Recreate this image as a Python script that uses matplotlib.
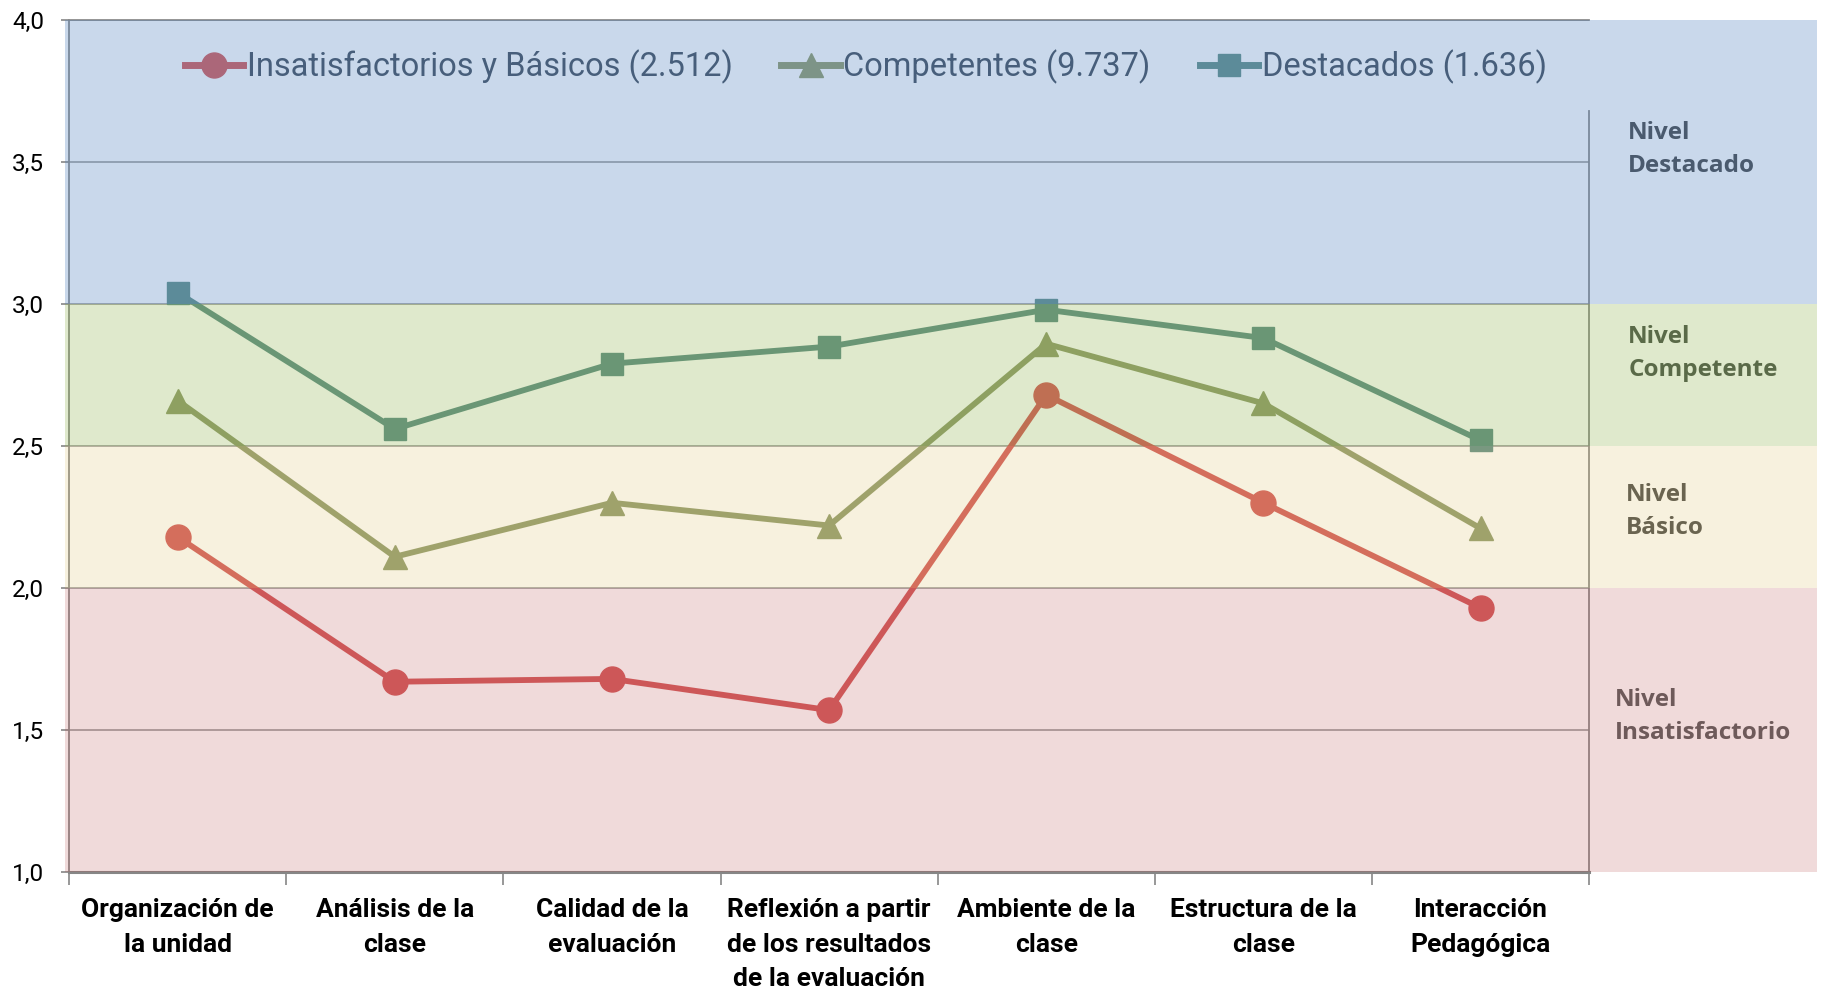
import numpy as np
import matplotlib.pyplot as plt
from matplotlib.patches import Rectangle

# Data
categorias = ["Organización de\nla unidad", "Análisis de la\nclase", "Calidad de la\nevaluación",
              "Reflexión a partir\nde los resultados\nde la evaluación", "Ambiente de la\nclase",
              "Estructura de la\nclase", "Interacción\nPedagógica"]
insatisfactorios = [2.18, 1.67, 1.68, 1.57, 2.68, 2.30, 1.93]
competentes = [2.66, 2.11, 2.30, 2.22, 2.86, 2.65, 2.21]
destacados = [3.04, 2.56, 2.79, 2.85, 2.98, 2.88, 2.52]
series_labels = ["Insatisfactorios y Básicos (2.512)", "Competentes (9.737)", "Destacados (1.636)"]
yticks = [1.0, 1.5, 2.0, 2.5, 3.0, 3.5, 4.0]

# Level bands
niveles_bajo = [3.0, 2.5, 2.0, 1.0]
niveles_alto = [4.0, 3.0, 2.5, 2.0]
niveles_color = [(79/255, 129/255, 189/255, 0.30), (131/255, 171/255, 55/255, 0.25),
                 (215/255, 185/255, 90/255, 0.20), (180/255, 70/255, 70/255, 0.20)]
niveles_texto = ["Nivel\nDestacado", "Nivel\nCompetente", "Nivel\nBásico", "Nivel\nInsatisfactorio"]
niveles_texto_color = ["#4A5A6E", "#5A6A48", "#6A6450", "#6E5A5A"]
niveles_texto_y = [3.545, 2.825, 2.268, 1.548]
niveles_texto_x = [6.68, 6.68, 6.67, 6.62]

narrow = ['Roboto', 'DejaVu Sans']

fig = plt.figure(figsize=(18.23, 9.94), dpi=100)
ax = fig.add_axes([0.0379, 0.1227, 0.8338, 0.8572])

x = np.arange(len(categorias))

# lines go under the translucent level bands
ax.plot(x, insatisfactorios, color="#D45C5D", lw=4.2, marker="o", ms=18, zorder=2, label=series_labels[0])
ax.plot(x, competentes, color="#929D70", lw=4.2, marker="^", ms=17, zorder=2, label=series_labels[1])
ax.plot(x, destacados, color="#62908A", lw=4.2, marker="s", ms=16, zorder=2, label=series_labels[2])

for lo, hi, c in zip(niveles_bajo, niveles_alto, niveles_color):
    ax.add_patch(Rectangle((-0.52, lo), 8.07, hi - lo, facecolor=c, edgecolor="none",
                           zorder=3, clip_on=False))

for t, c, yy, xx in zip(niveles_texto, niveles_texto_color, niveles_texto_y, niveles_texto_x):
    ax.text(xx, yy, t, color=c, fontsize=17.5, fontweight="bold", family=["Open Sans", "DejaVu Sans"],
            ha="left", va="center", linespacing=1.5, zorder=4)

leg = ax.legend(loc="center", bbox_to_anchor=(0.524, 0.945), ncol=3, frameon=False,
                prop={"family": narrow, "size": 23.5}, handlelength=1.8, handletextpad=0.1,
                columnspacing=1.5, labelcolor="#44505F")
for h in leg.get_lines():
    h.set_linewidth(5)
leg.set_zorder(2.5)

ax.set_xlim(-0.5, 6.5)
ax.set_ylim(1.0, 4.0)

# y axis
ax.set_yticks(yticks)
ax.set_yticklabels([f"{v:.1f}".replace(".", ",") for v in yticks], family=narrow, fontsize=17.5)
ax.yaxis.grid(True, color="#A0A0A0", lw=1.2)
ax.set_axisbelow(True)

# x axis: ticks at boundaries, labels at centres
ax.set_xticks(np.arange(-0.5, 7, 1))
ax.set_xticklabels([])
ax.set_xticks(x, minor=True)
ax.set_xticklabels(categorias, minor=True, family=narrow, fontsize=19, fontweight="bold",
                   linespacing=1.55, va="top")
ax.tick_params(axis="x", which="minor", length=0, pad=19)
ax.tick_params(axis="x", which="major", length=9, width=1.2, color="#868686", direction="out")
ax.tick_params(axis="y", length=6, width=1.2, color="#868686", pad=12)

for s in ["left", "top", "right"]:
    ax.spines[s].set_color("#8C8C8C")
    ax.spines[s].set_linewidth(1.3)
ax.spines["bottom"].set_color("#868686")
ax.spines["bottom"].set_linewidth(2.2)
ax.spines["right"].set_bounds(1.0, 3.68)

fig.savefig("out.png", dpi=100)
